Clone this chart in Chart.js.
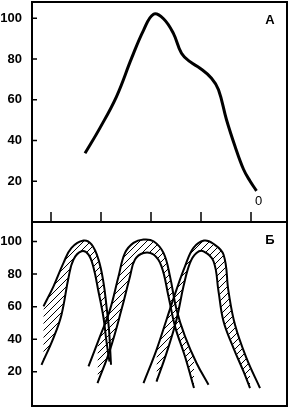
<!DOCTYPE html>
<html>
<head>
<meta charset="utf-8">
<script src="https://cdn.jsdelivr.net/npm/chart.js"></script>
<style>
  html, body { margin: 0; padding: 0; background: #fff; }
  #wrap { position: relative; width: 291px; height: 408px; overflow: hidden; }
  canvas { position: absolute; left: 0; }
  #topCanvas { top: 0; }
  #bottomCanvas { top: 220px; }
</style>
</head>
<body>
<div id="wrap">
  <canvas id="topCanvas" width="291" height="224"></canvas>
  <canvas id="bottomCanvas" width="291" height="188"></canvas>
</div>
<script>
// tick values
const xTicks = [10, 20, 30, 40, 50];
const yTicks = [20, 40, 60, 80, 100];

// panel A curve [x, y]
const curveA = [[16.8, 33.7], [19.8, 46.2], [23.1, 61.6], [26.1, 80.3], [28.5, 94.1], [30.5, 102],
  [32.5, 99.8], [34.5, 92.5], [36.1, 82.8], [37.8, 78.7], [39.8, 75.5], [42.1, 70.6], [43.5, 64.9],
  [45.1, 50.2], [46.8, 37.2], [48.5, 25.9], [49.8, 20.1], [51.1, 15.3]];

// panel B bands: outer (upper) and inner (lower) edges
const band1Outer = [[8.5, 60.2], [10.5, 72.5], [12.5, 86.9], [14.1, 96.1], [16.5, 100.6], [18.1, 98.2],
  [19.5, 88.9], [20.5, 74.8], [21.1, 60.2], [21.6, 45.8], [22.0, 24.3]];
const band1Inner = [[8.1, 24.3], [10.5, 40.9], [12.1, 55.1], [13.5, 77.8], [14.5, 88.9], [16.1, 94.0],
  [17.5, 92.0], [18.5, 84.0], [19.5, 69.2], [20.5, 53.2], [21.1, 38.5], [21.7, 26.2]];
const band2Outer = [[17.5, 23.3], [19.8, 41.7], [21.8, 58.2], [23.5, 78.6], [24.8, 93.0], [26.5, 99.2],
  [28.5, 101.2], [30.5, 100.2], [32.5, 93.0], [33.8, 78.6], [35.1, 58.2], [36.8, 41.7], [39.1, 25.4], [41.5, 12.0]];
const band2Inner = [[19.3, 13.0], [21.8, 33.5], [24.1, 58.2], [25.8, 78.6], [26.8, 88.9], [28.5, 93.0],
  [30.5, 92.0], [32.1, 84.8], [33.5, 66.3], [34.8, 47.9], [36.8, 29.4], [38.6, 10.0]];
const band3Outer = [[28.5, 13.0], [31.1, 33.5], [33.1, 52.0], [35.1, 70.5], [36.8, 84.8], [38.5, 96.1],
  [40.6, 100.6], [42.4, 98.8], [44.5, 92.0], [45.5, 69.4], [46.8, 48.9], [49.1, 28.4], [51.8, 10.0]];
const band3Inner = [[31.1, 14.0], [33.1, 31.5], [35.1, 52.0], [36.5, 72.5], [37.8, 86.9], [39.1, 93.0],
  [40.5, 94.0], [42.5, 87.9], [43.5, 69.4], [44.5, 51.0], [46.5, 34.6], [48.5, 20.2], [49.8, 10.0]];

const FONT = 'Liberation Sans';

function pts(arr) {
  return arr.map(p => ({ x: p[0], y: p[1] }));
}

function hatchPattern() {
  const c = document.createElement('canvas');
  c.width = 7; c.height = 7;
  const g = c.getContext('2d');
  g.strokeStyle = '#000';
  g.lineWidth = 1;
  g.beginPath();
  g.moveTo(0, 7); g.lineTo(7, 0);
  g.moveTo(-1, 1); g.lineTo(1, -1);
  g.moveTo(6, 8); g.lineTo(8, 6);
  g.stroke();
  return g.createPattern(c, 'repeat');
}

// frame, inward ticks and letters
const framePlugin = {
  id: 'frame',
  afterDraw(chart, args, opts) {
    const ctx = chart.ctx;
    const a = chart.chartArea;
    const xs = chart.scales.x, ys = chart.scales.y;
    ctx.save();
    ctx.strokeStyle = '#000';
    ctx.lineWidth = 2;
    ctx.strokeRect(a.left, a.top, a.right - a.left, a.bottom - a.top);
    ctx.lineWidth = 1.5;
    ctx.beginPath();
    yTicks.forEach(v => {
      const y = ys.getPixelForValue(v);
      ctx.moveTo(a.left, y); ctx.lineTo(a.left + 5, y);
    });
    if (opts.xTicks) {
      xTicks.forEach(v => {
        const x = xs.getPixelForValue(v);
        ctx.moveTo(x, a.bottom); ctx.lineTo(x, a.bottom - 10);
      });
    }
    ctx.stroke();
    ctx.fillStyle = '#000';
    ctx.font = 'bold 13px ' + FONT;
    ctx.textAlign = 'center';
    ctx.textBaseline = 'middle';
    ctx.fillText(opts.letter, a.right - 17, a.top + 18);
    if (opts.endLabel) {
      ctx.font = '13px ' + FONT;
      ctx.fillText('0', xs.getPixelForValue(opts.endLabel[0]), ys.getPixelForValue(opts.endLabel[1]));
    }
    ctx.restore();
  }
};

function baseOptions(yMin, yMax, pluginOpts, pad) {
  return {
    responsive: false,
    animation: false,
    devicePixelRatio: 1,
    events: [],
    layout: { padding: pad },
    plugins: { legend: { display: false }, tooltip: { enabled: false }, frame: pluginOpts },
    scales: {
      x: { type: 'linear', min: 6.2, max: 57.2, display: false },
      y: {
        type: 'linear', min: yMin, max: yMax,
        afterBuildTicks: s => { s.ticks = yTicks.map(v => ({ value: v })); },
        afterFit: s => { s.width = 32; s.paddingTop = 0; s.paddingBottom = 0; },
        grid: { display: false, drawTicks: false },
        border: { display: false },
        ticks: { padding: 10, color: '#000', font: { family: FONT, size: 13, weight: 'bold' } }
      }
    }
  };
}

new Chart(document.getElementById('topCanvas'), {
  type: 'line',
  data: {
    datasets: [{
      data: pts(curveA),
      borderColor: '#000', borderWidth: 3, pointRadius: 0, tension: 0.4, fill: false
    }]
  },
  options: baseOptions(0, 108, { letter: 'A', xTicks: true, endLabel: [51.5, 10] },
    { top: 2, right: 4, bottom: 2, left: 0 }),
  plugins: [framePlugin]
});

const hatch = hatchPattern();
const bandSets = [];
[[band1Outer, band1Inner], [band2Outer, band2Inner], [band3Outer, band3Inner]].forEach(pair => {
  const idx = bandSets.length;
  bandSets.push({ data: pts(pair[0]), borderColor: '#000', borderWidth: 2, pointRadius: 0, tension: 0.4, fill: false });
  bandSets.push({ data: pts(pair[1]), borderColor: '#000', borderWidth: 2, pointRadius: 0, tension: 0.4,
    fill: idx, backgroundColor: hatch });
});

new Chart(document.getElementById('bottomCanvas'), {
  type: 'line',
  data: { datasets: bandSets },
  options: baseOptions(-1, 112, { letter: 'Б', xTicks: false },
    { top: 2, right: 4, bottom: 2, left: 0 }),
  plugins: [framePlugin]
});
</script>
</body>
</html>
